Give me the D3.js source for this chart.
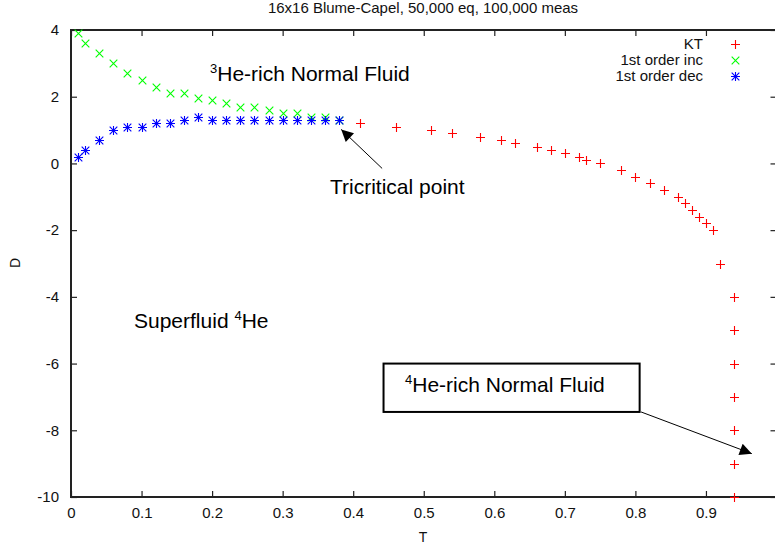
<!DOCTYPE html>
<html>
<head>
<meta charset="utf-8">
<script src="https://cdn.jsdelivr.net/npm/d3@7"></script>
<style>
  body { margin: 0; background: #fff; }
  svg { font-family: "Liberation Sans", Arial, Helvetica, sans-serif; }
</style>
</head>
<body>
<svg id="chart" width="775" height="546"></svg>
<script>
// Data
var ktT = [0.41, 0.46, 0.51, 0.54, 0.58, 0.61, 0.63, 0.66, 0.68, 0.70, 0.72, 0.73, 0.75, 0.78, 0.80, 0.82, 0.84, 0.86, 0.87, 0.88, 0.89, 0.90, 0.91, 0.92, 0.94, 0.94, 0.94, 0.94, 0.94, 0.94, 0.94];
var ktD = [1.2, 1.1, 1.0, 0.9, 0.8, 0.7, 0.6, 0.5, 0.4, 0.3, 0.2, 0.1, 0.0, -0.2, -0.4, -0.6, -0.8, -1.0, -1.2, -1.4, -1.6, -1.8, -2.0, -3.0, -4, -5, -6, -7, -8, -9, -10];

var incT = [0.01, 0.02, 0.04, 0.06, 0.08, 0.10, 0.12, 0.14, 0.16, 0.18, 0.20, 0.22, 0.24, 0.26, 0.28, 0.30, 0.32, 0.34, 0.36, 0.38];
var incD = [3.9, 3.6, 3.3, 3.0, 2.7, 2.5, 2.3, 2.1, 2.1, 1.95, 1.9, 1.8, 1.7, 1.7, 1.6, 1.5, 1.5, 1.4, 1.4, 1.3];

var decT = [0.01, 0.02, 0.04, 0.06, 0.08, 0.10, 0.12, 0.14, 0.16, 0.18, 0.20, 0.22, 0.24, 0.26, 0.28, 0.30, 0.32, 0.34, 0.36, 0.38];
var decD = [0.2, 0.4, 0.7, 1.0, 1.1, 1.1, 1.2, 1.2, 1.3, 1.4, 1.3, 1.3, 1.3, 1.3, 1.3, 1.3, 1.3, 1.3, 1.3, 1.3];

var xTicks = [0, 0.1, 0.2, 0.3, 0.4, 0.5, 0.6, 0.7, 0.8, 0.9, 1.0];
var yTicks = [4, 2, 0, -2, -4, -6, -8, -10];

var seriesNames = ["KT", "1st order inc", "1st order dec"];
var seriesColors = ["#ff0000", "#00ff00", "#0000ff"];

(function () {
    var svg = d3.select("#chart");
    var pl = 71, pr = 776.5, pt = 30, pb = 497;

    var x = d3.scaleLinear().domain([0, 1]).range([pl, pr]);
    var y = d3.scaleLinear().domain([-10, 4]).range([pb, pt]);

    var ink = "#222";

    // Title
    svg.append("text")
        .attr("x", 423).attr("y", 13)
        .attr("text-anchor", "middle")
        .attr("font-size", 15)
        .attr("fill", "#111")
        .text("16x16 Blume-Capel, 50,000 eq, 100,000 meas");

    // ticks (gnuplot style: inward, mirrored)
    var xAxisB = d3.axisBottom(x).tickValues(xTicks).tickSize(-6).tickPadding(10)
        .tickFormat(function (d) { return d === 1 ? "" : String(d); });
    var gx = svg.append("g").attr("transform", "translate(0," + pb + ")").call(xAxisB);
    var xAxisT = d3.axisTop(x).tickValues(xTicks).tickSize(-6).tickFormat("");
    var gxt = svg.append("g").attr("transform", "translate(0," + pt + ")").call(xAxisT);
    var yAxisL = d3.axisLeft(y).tickValues(yTicks).tickSize(-6).tickPadding(12)
        .tickFormat(function (d) { return String(d); });
    var gy = svg.append("g").attr("transform", "translate(" + pl + ",0)").call(yAxisL);
    var yAxisR = d3.axisRight(y).tickValues(yTicks).tickSize(-6).tickFormat("");
    var gyr = svg.append("g").attr("transform", "translate(" + pr + ",0)").call(yAxisR);

    [gx, gxt, gy, gyr].forEach(function (g) {
        g.select(".domain").remove();
        g.selectAll(".tick line").attr("stroke", ink).attr("stroke-width", 1.2);
        g.selectAll(".tick text").attr("font-size", 15).attr("fill", "#111")
            .attr("font-family", "Liberation Sans, Arial, sans-serif");
    });
    gx.selectAll(".tick text").attr("dy", "0.71em");

    // border
    svg.append("rect")
        .attr("x", pl).attr("y", pt)
        .attr("width", pr - pl).attr("height", pb - pt)
        .attr("fill", "none").attr("stroke", ink).attr("stroke-width", 2);

    // axis labels
    svg.append("text").attr("x", 423).attr("y", 542)
        .attr("text-anchor", "middle").attr("font-size", 14).attr("fill", "#111").text("T");
    svg.append("text")
        .attr("transform", "translate(20,263)rotate(-90)")
        .attr("text-anchor", "middle").attr("font-size", 14).attr("fill", "#111").text("D");

    // markers, snapped to pixel centres so they stay crisp
    var s = 4.5;
    function px(v) { return Math.round(v) + 0.5; }
    function plus(g, cx, cy, color) {
        cx = px(cx); cy = px(cy);
        g.append("path").attr("d", "M" + (cx - s) + "," + cy + "H" + (cx + s) + "M" + cx + "," + (cy - s) + "V" + (cy + s))
            .attr("stroke", color).attr("stroke-width", 1.1).attr("fill", "none");
    }
    function cross(g, cx, cy, color) {
        cx = px(cx); cy = px(cy);
        var k = s * 0.85;
        g.append("path").attr("d", "M" + (cx - k) + "," + (cy - k) + "L" + (cx + k) + "," + (cy + k) + "M" + (cx - k) + "," + (cy + k) + "L" + (cx + k) + "," + (cy - k))
            .attr("stroke", color).attr("stroke-width", 1.1).attr("fill", "none");
    }
    function star(g, cx, cy, color) { plus(g, cx, cy, color); cross(g, cx, cy, color); }

    var gInc = svg.append("g");
    incT.forEach(function (t, i) { cross(gInc, x(t), y(incD[i]), seriesColors[1]); });
    var gDec = svg.append("g");
    decT.forEach(function (t, i) { star(gDec, x(t), y(decD[i]), seriesColors[2]); });
    var gKt = svg.append("g");
    ktT.forEach(function (t, i) { plus(gKt, x(t), y(ktD[i]), seriesColors[0]); });

    // legend
    var markFns = [plus, cross, star];
    var leg = svg.append("g");
    seriesNames.forEach(function (name, i) {
        var ly = 44 + i * 16;
        leg.append("text").attr("x", 703).attr("y", ly).attr("dy", "0.35em")
            .attr("text-anchor", "end").attr("font-size", 15).attr("fill", "#111").text(name);
        markFns[i](leg, 735, ly, seriesColors[i]);
    });

    // annotations
    svg.append("defs").append("marker")
        .attr("id", "ah").attr("viewBox", "0 0 10 10").attr("refX", 10).attr("refY", 5)
        .attr("markerWidth", 16).attr("markerHeight", 12).attr("markerUnits", "userSpaceOnUse")
        .attr("orient", "auto")
        .append("path").attr("d", "M0,0L10,5L0,10Z").attr("fill", "#000");

    var t1 = svg.append("text").attr("x", 210).attr("y", 81).attr("font-size", 21).attr("fill", "#000");
    t1.append("tspan").attr("font-size", 13).attr("dy", -8).text("3");
    t1.append("tspan").attr("dy", 8).text("He-rich Normal Fluid");

    svg.append("text").attr("x", 330).attr("y", 194).attr("font-size", 21).attr("fill", "#000").text("Tricritical point");
    svg.append("line").attr("x1", x(0.441)).attr("y1", y(-0.15)).attr("x2", x(0.383)).attr("y2", y(1.02))
        .attr("stroke", "#000").attr("stroke-width", 1).attr("marker-end", "url(#ah)");

    var t2 = svg.append("text").attr("x", 134).attr("y", 328).attr("font-size", 21).attr("fill", "#000");
    t2.append("tspan").text("Superfluid ");
    t2.append("tspan").attr("font-size", 13).attr("dy", -8).text("4");
    t2.append("tspan").attr("dy", 8).text("He");

    svg.append("rect").attr("x", x(0.443)).attr("y", y(-6)).attr("width", x(0.806) - x(0.443)).attr("height", y(-7.45) - y(-6))
        .attr("fill", "#fff").attr("stroke", "#000").attr("stroke-width", 2);
    var t3 = svg.append("text").attr("x", 405).attr("y", 392).attr("font-size", 21).attr("fill", "#000");
    t3.append("tspan").attr("font-size", 13).attr("dy", -8).text("4");
    t3.append("tspan").attr("dy", 8).text("He-rich Normal Fluid");
    svg.append("line").attr("x1", x(0.808)).attr("y1", y(-7.45)).attr("x2", x(0.965)).attr("y2", y(-8.7))
        .attr("stroke", "#000").attr("stroke-width", 1).attr("marker-end", "url(#ah)");
})();
</script>
</body>
</html>
